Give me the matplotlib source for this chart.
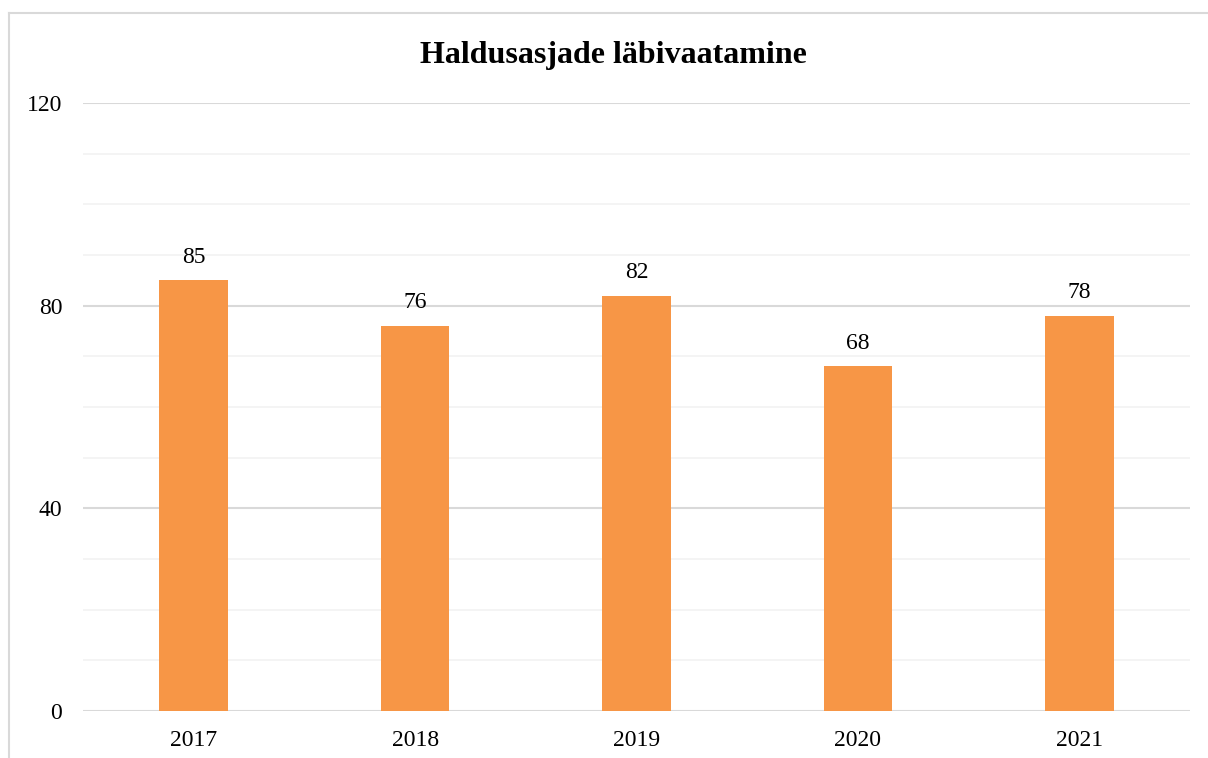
import matplotlib
matplotlib.use('Agg')
from matplotlib import pyplot as plt
from matplotlib.lines import Line2D
from matplotlib.ticker import MultipleLocator

years = ['2017', '2018', '2019', '2020', '2021']
cases = [85, 76, 82, 68, 78]

plt.rcParams['font.family'] = ['Liberation Serif', 'DejaVu Serif']

fig = plt.figure(figsize=(12.08, 7.58), dpi=100)
ax = fig.add_axes([83/1208, 1 - 711/758, (1190 - 83)/1208, (711 - 103)/758])

x = range(len(years))
bars = ax.bar(x, cases, width=0.31, color='#F79646', zorder=3)
for b, v in zip(bars, cases):
    ax.annotate(str(v), (b.get_x() + b.get_width()/2, v), xytext=(0, 9),
                textcoords='offset points', ha='center', va='bottom', fontsize=17)

ax.set_xlim(-0.5, len(years) - 0.5)
ax.set_ylim(0, 120)
ax.yaxis.set_major_locator(MultipleLocator(40))
ax.yaxis.set_minor_locator(MultipleLocator(10))
ax.grid(axis='y', which='minor', color='#F2F2F2', linewidth=1.2, zorder=0)
ax.grid(axis='y', which='major', color='#D9D9D9', linewidth=1.5, zorder=1)
ax.set_xticks(list(x))
ax.set_xticklabels(years)
ax.tick_params(axis='both', which='both', length=0, labelsize=17)
ax.tick_params(axis='y', pad=15)
ax.tick_params(axis='x', pad=14)
for s in ax.spines.values():
    s.set_visible(False)

fig.text(613/1208, 1 - 55/758, 'Haldusasjade läbivaatamine', ha='center', va='center',
         fontsize=23, fontweight='bold')

# chart border (left and top visible)
fig.add_artist(Line2D([9/1208, 9/1208], [0, 1 - 13/758], color='#D9D9D9', linewidth=1.5))
fig.add_artist(Line2D([9/1208, 1], [1 - 13/758, 1 - 13/758], color='#D9D9D9', linewidth=1.5))

plt.savefig('out.png', dpi=100)
